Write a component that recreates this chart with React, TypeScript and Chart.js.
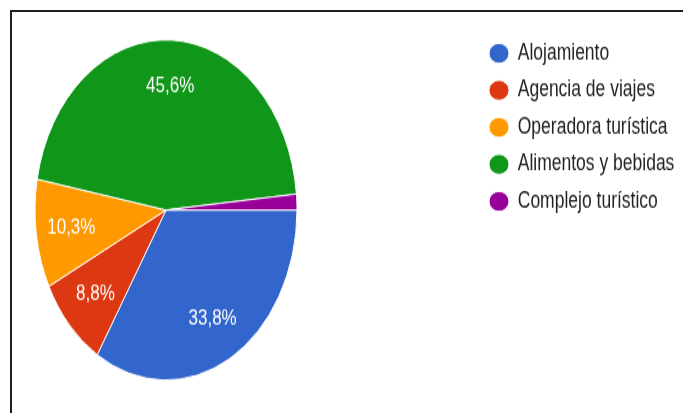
import { useEffect, useRef } from 'react';
import { Chart, registerables } from 'chart.js';

Chart.register(...registerables);

const categories = [
  'Alojamiento',
  'Agencia de viajes',
  'Operadora turística',
  'Alimentos y bebidas',
  'Complejo turístico',
];
const shares = [33.8, 8.8, 10.3, 45.6, 1.5];
const sliceColors = ['#3366cc', '#dc3912', '#ff9900', '#109618', '#990099'];
const minLabelShare = 5;

const CANVAS_W = 683;
const CANVAS_H = 318;
const STRETCH_Y = 413 / CANVAS_H;
const FONT_FAMILY = '"Liberation Sans", Arial, sans-serif';

const LEGEND_LEFT = 478;
const LEGEND_TOP = 21.3;

const sliceLabels = {
  id: 'sliceLabels',
  afterDatasetsDraw(chart: any) {
    const ctx = chart.ctx;
    const meta = chart.getDatasetMeta(0);
    ctx.save();
    ctx.font = `17px ${FONT_FAMILY}`;
    ctx.fillStyle = '#ffffff';
    ctx.textAlign = 'center';
    ctx.textBaseline = 'middle';
    meta.data.forEach((arc: any, i: number) => {
      const v = shares[i];
      if (v < minLabelShare) return;
      const { x, y, startAngle, endAngle, outerRadius } = arc.getProps(
        ['x', 'y', 'startAngle', 'endAngle', 'outerRadius'],
        true
      );
      const mid = (startAngle + endAngle) / 2;
      const r = outerRadius * 0.73;
      ctx.fillText(
        v.toFixed(1).replace('.', ',') + '%',
        x + Math.cos(mid) * r,
        y + Math.sin(mid) * r
      );
    });
    ctx.restore();
  },
};

const legendPlacement = {
  id: 'legendPlacement',
  afterLayout(chart: any) {
    const lg = chart.legend;
    if (!lg) return;
    lg.left = LEGEND_LEFT;
    lg.right = CANVAS_W;
    lg.width = CANVAS_W - LEGEND_LEFT;
    lg.top = LEGEND_TOP;
    lg.bottom = CANVAS_H;
    lg.height = CANVAS_H - LEGEND_TOP;
  },
};

export default function App() {
  const canvasRef = useRef<HTMLCanvasElement | null>(null);

  useEffect(() => {
    document.body.style.margin = '0';
    document.body.style.background = '#ffffff';
    const canvas = canvasRef.current;
    if (!canvas) return;
    const chart = new Chart(canvas, {
      type: 'pie',
      data: {
        labels: categories,
        datasets: [
          {
            data: shares,
            backgroundColor: sliceColors,
            borderColor: '#ffffff',
            borderWidth: 1,
          },
        ],
      },
      options: {
        responsive: false,
        animation: false,
        devicePixelRatio: 1,
        rotation: 90,
        layout: {
          padding: { left: 34.5, top: 30.2, bottom: 24.8, right: 235.5 },
        },
        plugins: {
          tooltip: { enabled: false },
          legend: {
            display: true,
            position: 'right',
            align: 'start',
            maxWidth: 150,
            labels: {
              usePointStyle: true,
              pointStyle: 'circle',
              pointStyleWidth: 20,
              boxHeight: 11,
              padding: 11,
              color: '#222222',
              font: { size: 17.5, family: FONT_FAMILY },
            },
          },
        },
      },
      plugins: [sliceLabels, legendPlacement],
    } as any);
    return () => chart.destroy();
  }, []);

  return (
    <div>
      <div
        style={{
          position: 'fixed',
          left: 0,
          top: 0,
          width: CANVAS_W,
          height: CANVAS_H,
          transform: `scaleY(${STRETCH_Y})`,
          transformOrigin: '0 0',
        }}
      >
        <canvas ref={canvasRef} width={CANVAS_W} height={CANVAS_H} />
      </div>
      <div
        style={{
          position: 'fixed',
          left: 10,
          top: 10,
          right: 0,
          bottom: 0,
          borderTop: '2px solid #1e1e1e',
          borderLeft: '2px solid #1e1e1e',
          pointerEvents: 'none',
        }}
      />
    </div>
  );
}
